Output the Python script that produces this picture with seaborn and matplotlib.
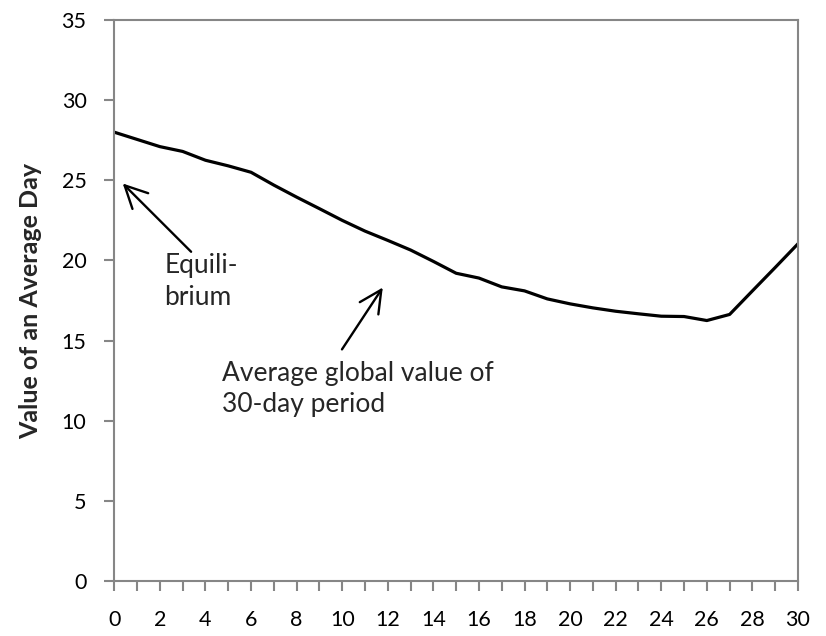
import matplotlib
matplotlib.use("Agg")
import matplotlib.pyplot as plt
import seaborn as sns
import pandas as pd

# ---- data ----
days = list(range(0, 31))
avg_value = [28.0, 27.55, 27.1, 26.8, 26.25, 25.9, 25.5, 24.7, 23.95, 23.23,
             22.5, 21.83, 21.25, 20.65, 19.94, 19.2, 18.9, 18.35, 18.1, 17.6,
             17.29, 17.04, 16.83, 16.67, 16.52, 16.5, 16.25, 16.63, 18.1, 19.56,
             21.04]
y_ticks = [0, 5, 10, 15, 20, 25, 30, 35]
x_labels = [str(d) if d % 2 == 0 else "" for d in days]
y_label = "Value of an Average Day"
note_eq = ["Equili-", "brium"]
note_avg = ["Average global value of", "30-day period"]

df = pd.DataFrame({"day": days, "value": avg_value})

sns.set_style("white")
FONT = ["Lato", "DejaVu Sans"]
plt.rcParams["font.family"] = FONT

fig = plt.figure(figsize=(8.26, 6.36), dpi=100)
ax = fig.add_axes([114.3 / 826, 1 - 581 / 636, (798 - 114.3) / 826, (581 - 20) / 636])

sns.lineplot(data=df, x="day", y="value", ax=ax, color="black", linewidth=2.3)

ax.set_xlim(0, 30)
ax.set_ylim(0, 35)
ax.set_xticks(days)
ax.set_xticklabels(x_labels)
ax.set_yticks(y_ticks)
ax.set_yticklabels([str(t) for t in y_ticks])

grey = "#868686"
for s in ax.spines.values():
    s.set_color(grey)
    s.set_linewidth(1.5)
    s.set_visible(True)
ax.tick_params(axis="both", which="major", direction="out", length=7, width=1.5,
               color=grey, labelsize=15.5, labelcolor="black")
ax.tick_params(axis="x", pad=14)
ax.tick_params(axis="y", pad=13)
ax.tick_params(left=True, bottom=True)

ax.set_xlabel("")
ax.set_ylabel(y_label, fontsize=18, fontweight="bold", labelpad=14)

arrow = dict(arrowstyle="->,head_length=0.5,head_width=0.25", color="black",
             lw=1.7, mutation_scale=32, shrinkA=0, shrinkB=0)
ax.annotate("", xy=(0.37, 24.8), xytext=(3.37, 20.54), arrowprops=arrow)
ax.annotate("", xy=(11.78, 18.31), xytext=(9.99, 14.45), arrowprops=arrow)

ax.text(2.19, 19.21, note_eq[0], fontsize=19, va="baseline", ha="left")
ax.text(2.19, 17.2, note_eq[1], fontsize=19, va="baseline", ha="left")
ax.text(4.73, 12.48, note_avg[0], fontsize=19, va="baseline", ha="left")
ax.text(4.73, 10.56, note_avg[1], fontsize=19, va="baseline", ha="left")

fig.savefig("out.png", dpi=100)
